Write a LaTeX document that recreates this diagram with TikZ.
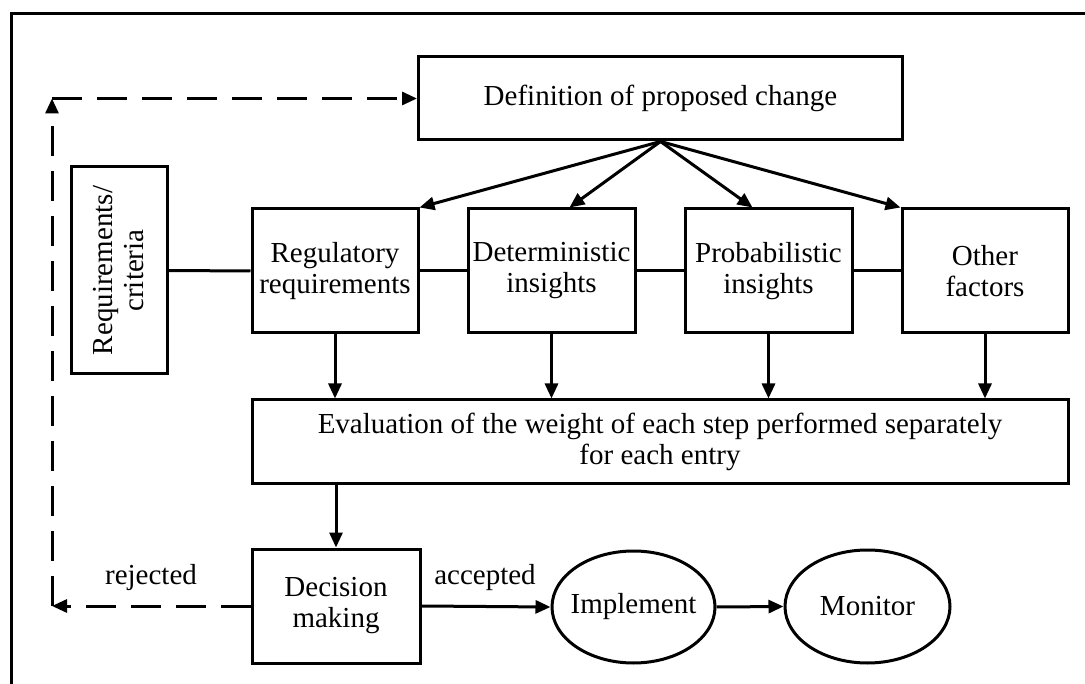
\documentclass[tikz,border=0pt]{standalone}
\usepackage{fontspec}
\setmainfont{Liberation Serif}
\usetikzlibrary{arrows.meta,positioning,calc,shapes.geometric}

\begin{document}
\begin{tikzpicture}[
    x=1pt,y=-1pt,
    >={Triangle[length=15pt,width=13pt]},
    every node/.style={font=\fontsize{29}{31}\selectfont},
    box/.style={rectangle,draw,line width=3pt,align=center,inner sep=0pt},
    oval/.style={ellipse,draw,line width=3pt,inner ysep=0pt,inner xsep=-14pt},
    link/.style={line width=3pt},
    flow/.style={->,line width=3pt},
    back/.style={->,line width=3pt,dash pattern=on 30pt off 15pt},
    lbl/.style={inner sep=0pt},
]
\useasboundingbox (0,0) rectangle (1085,684);

% ---- outer frame (cut at right and bottom) ----
\draw[line width=3pt] (1085,14) -- (11,14) -- (11,684);

% ---- proposed change and the four inputs ----
\node[box,minimum width=484pt,minimum height=83pt] (def) at (660.5,98.5) {Definition of proposed change};
\node[box,minimum width=96pt,minimum height=207pt] (req) at (119,270.5) {};
\node[rotate=90,align=center,inner sep=0pt] (reqtxt) at (req.center) {Requirements/\\criteria};
\node[box,minimum width=166pt,minimum height=124pt] (reg) at (335,271) {Regulatory\\requirements};
\node[box,minimum width=167pt,minimum height=124pt] (det) at (551.5,271) {Deterministic\\insights};
\node[box,minimum width=167pt,minimum height=124pt] (prob) at (768.5,271) {Probabilistic\\insights};
\node[box,minimum width=166pt,minimum height=124pt] (oth) at (985,271) {Other\\factors};

% ---- evaluation, decision, implement, monitor ----
\node[box,minimum width=816pt,minimum height=84pt] (eval) at (660,442)
  {Evaluation of the weight of each step performed separately\\for each entry};
\node[box,minimum width=168pt,minimum height=114pt] (dec) at (336,606) {Decision\\making};
\node[oval,minimum width=163pt,minimum height=112pt] (impl) at (633.5,607) {Implement};
\node[oval,minimum width=165pt,minimum height=113pt] (mon) at (867.5,606.5) {Monitor};

% ---- fan of arrows from the change ----
\draw[flow] (def.south) -- (reg.north east);
\draw[flow] (def.south) -- ($(det.north)+(18,0)$);
\draw[flow] (def.south) -- ($(prob.north)+(-16,0)$);
\draw[flow] (def.south) -- (oth.north west);

% ---- side links in the row ----
\draw[link] (req.east) -- (reg.west);
\draw[link] (reg.east) -- (det.west);
\draw[link] (det.east) -- (prob.west);
\draw[link] (prob.east) -- (oth.west);

% ---- down to evaluation, then to decision ----
\foreach \b in {reg,det,prob,oth}
  \draw[flow] (\b.south) -- (\b.south |- eval.north);
\draw[flow] (dec.north |- eval.south) -- (dec.north);

% ---- accepted path ----
\draw[flow] (dec.east) -- (impl.west);
\node[lbl] (acc) at (485,578) {accepted};
\draw[flow] (impl.east) -- (mon.west);

% ---- rejected loop back to the change ----
\coordinate (rejcorner) at (52,606);
\coordinate (topcorner) at (52,98.5);
\draw[back] (dec.west) -- (rejcorner);
\draw[back] (rejcorner) -- (topcorner);
\draw[back] (topcorner) -- (def.west);
\node[lbl] (rej) at (151,578) {rejected};

\end{tikzpicture}
\end{document}
